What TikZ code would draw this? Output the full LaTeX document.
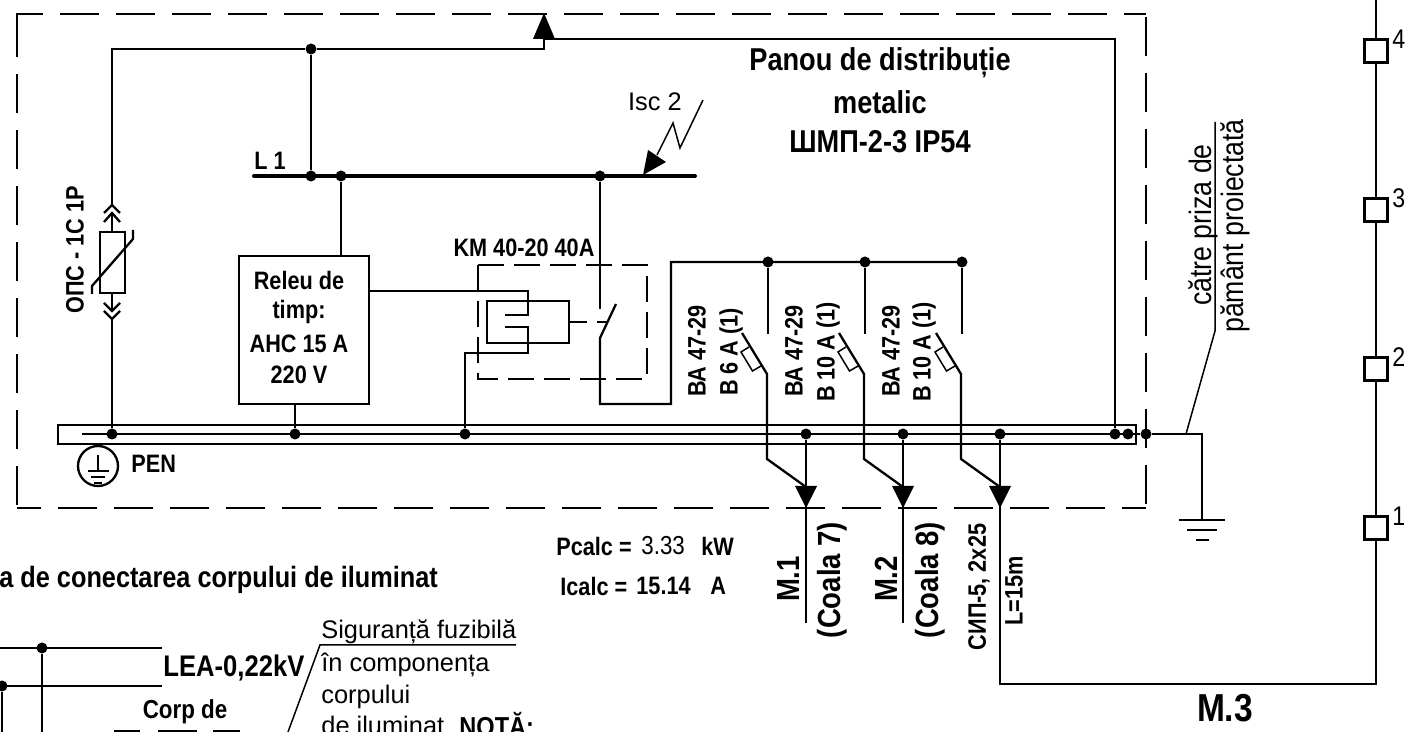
\documentclass[tikz,border=0pt]{standalone}
\usepackage{amsmath}
\usepackage{fontspec}
\setmainfont[FakeStretch=0.86]{Liberation Sans}
\newfontfamily\widefont{Liberation Sans}
\tikzset{
  wire/.style={line width=1.15pt},
  thinw/.style={line width=0.75pt},
  dot/.style={circle,fill=black,inner sep=0pt,minimum size=5.5pt},
  panel/.style={line width=1pt,dash pattern=on 19.5pt off 8.5pt},
  kmbox/.style={line width=0.8pt,dash pattern=on 13pt off 5pt},
  clamp/.style={draw,line width=1.9pt,fill=white,inner sep=0pt,minimum width=11.5pt,minimum height=11.5pt},
  tt/.style={font=\bfseries\fontsize{15.8}{18}\selectfont,inner sep=0pt},
  ml/.style={font=\bfseries\fontsize{16}{18}\selectfont,inner sep=0pt},
  bs/.style={font=\bfseries\fontsize{12.6}{15}\selectfont,inner sep=0pt},
  rt/.style={font=\widefont\fontsize{12.7}{15}\selectfont,inner sep=0pt},
  nt/.style={font=\fontsize{15.5}{18}\selectfont,inner sep=0pt}
}
\begin{document}
\begin{tikzpicture}[x=0.5pt,y=-0.5pt]
\useasboundingbox (0,0) rectangle (1415,732);
% panel outline
\draw[panel,dash phase=4.5pt] (17,18) -- (17,14) -- (1146,14);
\draw[panel] (17,18) -- (17,508);
\draw[panel] (1146,17) -- (1146,508);
\draw[panel,dash phase=7.5pt] (1146,508) -- (17,508);
% PEN bar
\draw[wire] (58,425) rectangle (1136,444);
\coordinate (penl) at (82,434);
\node[dot] (pa) at (112,434) {};
\node[dot] (pb) at (295,434) {};
\node[dot] (pc) at (465,434) {};
\node[dot] (pd) at (1115,434) {};
\node[dot] (pe) at (1128,434) {};
\node[dot] (pf) at (1146,434) {};
\draw[wire] (penl) -- (pf);
\node[draw,wire,circle,minimum size=20pt,inner sep=0pt] (gnd) at (98,466) {};
\draw[thinw] (98,455) -- (98,471) (88,471) -- (109,471) (91,477) -- (105,477) (94,483) -- (102,483);
\node[bs,anchor=west] (pen) at (131,464) {PEN};
% top feeder
\node[dot] (ta) at (311,49) {};
\coordinate (tb) at (544,49);
\coordinate (tc) at (544,39);
\draw[wire] (112,205) |- (ta) -- (tb) -- (tc) -| (pd);
\fill (533,39) -- (555,39) -- (544,13) -- cycle;
% bus L1
\coordinate (busl) at (254,176);
\coordinate (busr) at (695,176);
\draw[line width=2pt,line cap=round] (busl) -- (busr);
\node[dot] (ba) at (311,176) {};
\node[dot] (bb) at (341,176) {};
\node[dot] (bc) at (600,176) {};
\draw[wire] (ta) -- (ba);
\node[bs,anchor=west] (lone) at (254,161) {L 1};
% short circuit mark
\draw[thinw] (703,100) -- (680,148) -- (673,123) -- (657,155);
\fill (643,175) -- (648,150) -- (666,162) -- cycle;
\node[rt] (isc) at (655,102) {Isc 2};
% varistor
\draw[wire] (100,232) rectangle (125,293);
\draw[wire] (112,213) -- (112,232) (112,293) -- (112,311);
\draw[wire] (112,319) -- (pa);
\draw[wire] (104,213) -- (112,205) -- (120,213) (104,222) -- (112,213) -- (120,222);
\draw[wire] (104,303) -- (112,311) -- (120,303) (104,311) -- (112,319) -- (120,311);
\draw[wire] (92,294) -- (92,286) -- (133,239) -- (133,230);
\node[bs,rotate=90] (ops) at (75,250) {ОПС - 1С 1Р};
% time relay
\node[draw,wire,minimum width=65pt,minimum height=74pt,inner sep=0pt] (rel) at (304,330) {};
\node[bs] at (299,280) {Releu de};
\node[bs] at (299,312) {timp:};
\node[bs] at (299,344) {АНС 15 А};
\node[bs] at (299,375) {220 V};
\draw[wire] (bb) -- (bb |- rel.north);
\draw[wire] (pb) -- (pb |- rel.south);
% contactor
\draw[kmbox] (478,265) rectangle (647,379);
\node[bs] (km) at (524,248) {KM 40-20 40A};
\coordinate (coila) at (369,291);
\draw[wire] (coila) -- (528,291) -- (528,315) -- (505,315);
\draw[wire] (505,327) -- (528,327) -- (528,353) -- (465,353) -- (pc);
\draw[wire] (487,301) rectangle (569,343);
\draw[wire] (569,322) -- (587,322) (597,322) -- (608,322);
\draw[wire] (bc) -- (600,309);
\draw[wire] (616,304) -- (600,338) -- (600,404) -- (671,404) -- (671,262) -- (962,262);
% breakers and outgoing lines
\foreach \x/\t/\k in {768/806/1,865/903/2,962/1000/3}{
  \node[dot] (br\k) at (\x,262) {};
  \node[dot] (po\k) at (\t,434) {};
  \draw[wire] (br\k) -- (\x,334);
  \draw[wire] (\x-26,333) -- (\x-1,374) -- (\x-1,459) -- (\t,487);
  \draw[thinw] (\x-19,347) -- (\x-27,352) -- (\x-15.5,371) -- (\x-7,366);
  \fill (\t-11,486) -- (\t+11,486) -- (\t,508) -- cycle;
}
\node[bs,rotate=90] (ba1) at (697,351) {ВА 47-29};
\node[bs,rotate=90] (bb1) at (731,352) {B 6 A (1)};
\node[bs,rotate=90] (ba2) at (794,351) {ВА 47-29};
\node[bs,rotate=90] (bb2) at (828,352) {B 10 A (1)};
\node[bs,rotate=90] (ba3) at (891,351) {ВА 47-29};
\node[bs,rotate=90] (bb3) at (924,352) {B 10 A (1)};
\draw[wire] (po1) -- (806,623);
\draw[wire] (po2) -- (903,623);
\draw[wire] (po3) -- (1000,684) -- (1376,684) -- (1376,0);
% title
\node[tt] (ttl) at (880,63) {Panou de distribuție};
\node[tt] (ttm) at (880,102) {metalic};
\node[tt] (ttn) at (880,142) {ШМП-2-3 IP54};
% calculation
\node[bs,anchor=west] (pc1) at (556,546) {Pcalc =};
\node[font=\fontsize{13}{15}\selectfont,inner sep=0pt,anchor=west] (pc2) at (641,546) {3.33};
\node[bs,anchor=west] (pc3) at (701,546) {kW};
\node[bs,anchor=west] (ic1) at (560,586) {Icalc =};
\node[bs,anchor=west] (ic2) at (636,586) {15.14};
\node[bs,anchor=west] (ic3) at (710,586) {A};
% line labels
\node[ml,rotate=90] (m1) at (788,579) {М.1};
\node[ml,rotate=90] (c7) at (832,580) {(Coala 7)};
\node[ml,rotate=90] (m2) at (886,579) {М.2};
\node[ml,rotate=90] (c8) at (930,580) {(Coala 8)};
\node[bs,rotate=90] (sip) at (979,587) {СИП-5, 2x25};
\node[bs,rotate=90] (len) at (1014,591) {L=15m};
\node[ml,font=\bfseries\fontsize{19.5}{22}\selectfont] (m3) at (1225,708) {М.3};
% earth
\coordinate (ea) at (1202,434);
\coordinate (eb) at (1202,520);
\draw[wire] (pf) -- (ea) -- (eb);
\draw[wire] (1179,520) -- (1225,520) (1187,530) -- (1217,530) (1196,540) -- (1209,540);
\draw[thinw] (1186,434) -- (1215,331) -- (1215,122);
\node[nt,rotate=90] (ea1) at (1203,225) {către priza de};
\node[nt,rotate=90] (ea2) at (1235,226) {pământ proiectată};
% lighting poles
\foreach \n/\y in {1/528,2/369,3/210,4/51}{
  \node[clamp] (cl\n) at (1376,\y) {};
  \node[nt,font=\fontsize{13.5}{15}\selectfont,anchor=west] (nr\n) at (1392,\y-12) {\n};
}
% lighting scheme, cut off by the sheet
\node[tt,font=\bfseries\fontsize{14.7}{17}\selectfont,anchor=west] (sch) at (-1,580) {a de conectarea corpului de iluminat};
\node[dot] (la) at (42,648) {};
\node[dot] (lb) at (2,686) {};
\draw[wire] (0,648) -- (162,648) (0,686) -- (162,686);
\draw[wire] (la) -- (42,732);
\draw[wire] (lb) -- (2,732);
\node[tt,font=\bfseries\fontsize{14.9}{17}\selectfont,anchor=west] (lea) at (163,668) {LEA-0,22kV};
\node[bs,font=\bfseries\fontsize{13}{15}\selectfont] (corp) at (185,712) {Corp de};
\draw[thinw] (114,731) -- (140,731) (158,731) -- (197,731) (213,731) -- (240,731);
\draw[thinw] (516,645) -- (320,645) -- (288,732);
\node[rt,anchor=west] (sg) at (321,632) {Siguranță fuzibilă};
\node[rt,anchor=west] (sa) at (321,665) {în componența};
\node[rt,anchor=west] (sb) at (321,697) {corpului};
\node[rt,anchor=west] (sc) at (321,725) {de iluminat};
\node[bs,font=\bfseries\fontsize{13.7}{16}\selectfont,anchor=west] (nota) at (459,725) {NOTĂ:};
\end{tikzpicture}
\end{document}
